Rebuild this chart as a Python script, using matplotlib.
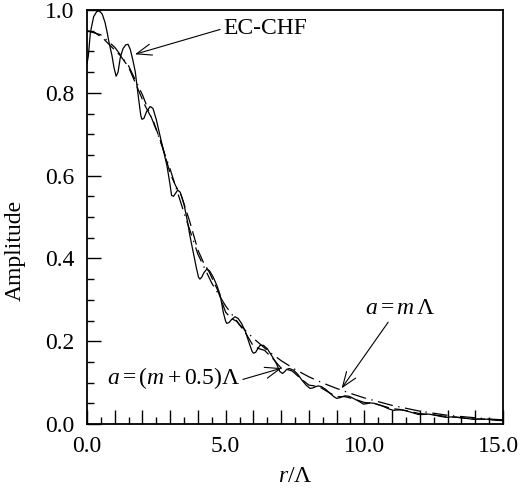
import matplotlib
matplotlib.use('Agg')
import matplotlib.pyplot as plt
from matplotlib.ticker import MultipleLocator, FuncFormatter
from matplotlib.transforms import ScaledTranslation

plt.rcParams['font.family'] = ['Liberation Serif', 'DejaVu Serif']
plt.rcParams['mathtext.fontset'] = 'custom'
plt.rcParams['mathtext.rm'] = 'Liberation Serif'
plt.rcParams['mathtext.it'] = 'Liberation Serif:italic'
plt.rcParams['lines.scale_dashes'] = False

# EC-CHF (solid)
r_chf = [0.0, 0.05, 0.12, 0.24, 0.35, 0.44, 0.55, 0.65, 0.72, 0.8, 0.9, 0.97, 1.05, 1.12, 1.2, 1.3,
         1.4, 1.48, 1.56, 1.65, 1.74, 1.86, 1.94, 1.98, 2.05, 2.15, 2.28, 2.38, 2.5, 2.62, 2.75, 2.88,
         2.99, 3.05, 3.12, 3.2, 3.27, 3.36, 3.5, 3.62, 3.71, 3.83, 3.95, 4.02, 4.07, 4.14, 4.22, 4.32,
         4.42, 4.55, 4.68, 4.8, 4.92, 5.0, 5.04, 5.12, 5.22, 5.34, 5.45, 5.58, 5.72, 5.85, 5.95, 6.0,
         6.08, 6.16, 6.24, 6.36, 6.5, 6.65, 6.8, 6.95, 7.05, 7.12, 7.2, 7.3, 7.45, 7.6, 7.75, 7.9,
         8.04, 8.14, 8.24, 8.34, 8.46, 8.6, 8.75, 8.9, 9.0, 9.1, 9.2, 9.3, 9.45, 9.6, 9.8, 9.97,
         10.08, 10.2, 10.35, 10.5, 10.7, 10.9, 11.05, 11.2, 11.35, 11.55, 11.75, 11.95, 12.1, 12.3,
         12.5, 12.7, 12.95, 13.1, 13.3, 13.5, 13.75, 13.95, 14.1, 14.3, 14.5, 14.75, 15.0]
amp_chf = [0.87, 0.89, 0.945, 0.984, 0.996, 0.998, 0.99, 0.97, 0.948, 0.92, 0.89, 0.862, 0.84, 0.85,
           0.885, 0.907, 0.916, 0.917, 0.905, 0.88, 0.851, 0.786, 0.745, 0.736, 0.738, 0.755, 0.767,
           0.762, 0.735, 0.70, 0.662, 0.625, 0.58, 0.552, 0.55, 0.558, 0.565, 0.56, 0.53, 0.49, 0.455,
           0.415, 0.375, 0.355, 0.35, 0.355, 0.366, 0.374, 0.37, 0.355, 0.335, 0.312, 0.268, 0.248,
           0.243, 0.245, 0.253, 0.259, 0.255, 0.242, 0.222, 0.195, 0.176, 0.171, 0.173, 0.182, 0.19,
           0.19, 0.182, 0.166, 0.15, 0.127, 0.122, 0.126, 0.132, 0.134, 0.13, 0.12, 0.106, 0.094,
           0.086, 0.087, 0.09, 0.092, 0.09, 0.084, 0.075, 0.066, 0.062, 0.063, 0.066, 0.068, 0.067,
           0.062, 0.055, 0.048, 0.049, 0.051, 0.05, 0.047, 0.042, 0.036, 0.033, 0.034, 0.034, 0.031,
           0.027, 0.023, 0.023, 0.024, 0.022, 0.019, 0.016, 0.017, 0.017, 0.015, 0.013, 0.011, 0.012,
           0.012, 0.011, 0.009, 0.008]

# a = (m+0.5)Lambda (dashed)
r_half = [0, 0.3, 0.6, 0.9, 1.2, 1.5, 1.8, 2.1, 2.4, 2.7, 3.0, 3.2, 3.4, 3.7, 4.0, 4.2, 4.4, 4.7, 5.0,
          5.2, 5.4, 5.7, 6.0, 6.2, 6.4, 6.7, 7.0, 7.2, 7.4, 7.7, 8.0, 8.2, 8.4, 8.7, 9.0, 9.3, 9.6,
          10.0, 10.3, 10.6, 11.0, 11.3, 11.6, 12.0, 12.5, 13.0, 13.5, 14.0, 14.5, 15.0]
amp_half = [0.95, 0.945, 0.93, 0.91, 0.89, 0.862, 0.815, 0.768, 0.73, 0.675, 0.605, 0.575, 0.552,
            0.49, 0.42, 0.39, 0.368, 0.325, 0.27, 0.255, 0.248, 0.222, 0.188, 0.182, 0.178, 0.158,
            0.135, 0.132, 0.128, 0.11, 0.094, 0.092, 0.089, 0.077, 0.066, 0.066, 0.061, 0.052, 0.05,
            0.045, 0.037, 0.035, 0.031, 0.025, 0.022, 0.018, 0.015, 0.012, 0.011, 0.009]

# a = m Lambda (dash-dot)
r_int = [0, 0.5, 1.0, 1.5, 2.0, 2.5, 3.0, 3.5, 4.0, 4.5, 5.0, 5.5, 6.0, 6.5, 7.0, 7.5, 8.0, 8.5, 9.0,
         9.5, 10.0, 10.5, 11.0, 11.5, 12.0, 12.5, 13.0, 13.5, 14.0, 14.5, 15.0]
amp_int = [0.95, 0.94, 0.91, 0.865, 0.795, 0.71, 0.615, 0.51, 0.41, 0.34, 0.285, 0.24, 0.207, 0.178,
           0.153, 0.132, 0.114, 0.099, 0.086, 0.074, 0.063, 0.054, 0.045, 0.038, 0.031, 0.026,
           0.021, 0.018, 0.015, 0.012, 0.010]

x_ticklabels = {0: '0.0', 5: '5.0', 10: '10.0', 15: '15.0'}

W, H = 522, 492
fig = plt.figure(figsize=(W / 100, H / 100), dpi=100)
ax = fig.add_axes([87 / W, 68 / H, 416 / W, 414 / H])

lw = 0.9
ax.plot(r_chf, amp_chf, color='black', lw=lw, ls='-')
ax.plot(r_half, amp_half, color='black', lw=lw, ls=(0, (10, 4)))
ax.plot(r_int, amp_int, color='black', lw=lw, ls=(0, (11, 4, 1, 4)))

ax.set_xlim(0, 15)
ax.set_ylim(0, 1)

ax.xaxis.set_major_locator(MultipleLocator(1))
ax.xaxis.set_minor_locator(MultipleLocator(0.5))
ax.xaxis.set_major_formatter(FuncFormatter(
    lambda v, p: x_ticklabels.get(int(round(v)), '') if abs(v - round(v)) < 1e-6 else ''))
ax.yaxis.set_major_locator(MultipleLocator(0.2))
ax.yaxis.set_minor_locator(MultipleLocator(0.05))
ax.yaxis.set_major_formatter(FuncFormatter(lambda v, p: f'{v:.1f}'))

fs = 17
ax.tick_params(which='both', direction='in', top=False, right=False, width=1.0, labelsize=fs)
ax.tick_params(which='major', length=10)
ax.tick_params(which='minor', length=5)
ax.tick_params(axis='x', which='major', pad=9)
ax.tick_params(axis='y', which='major', pad=9)
for s in ax.spines.values():
    s.set_linewidth(1.3)

ax.set_xlabel(r'$r$/Λ', fontsize=fs, labelpad=6)
ax.set_ylabel('Amplitude', fontsize=fs, labelpad=8)
ax.yaxis.set_label_coords(-0.148, 0.42)

ap = dict(arrowstyle='->,head_length=0.4,head_width=0.15', lw=0.8, color='black',
          mutation_scale=27, shrinkA=0, shrinkB=0)
ax.annotate('EC-CHF', xy=(1.73, 0.893), xytext=(4.90, 0.955), ha='left', va='center',
            fontsize=fs, arrowprops=dict(ap, relpos=(0, 0.5)))
ax.annotate(r'$a=m\,\Lambda$', xy=(9.18, 0.086), xytext=(11.29, 0.278), ha='center', va='center',
            fontsize=fs, arrowprops=dict(ap, relpos=(0.38, 0.1)))
ax.annotate(r'$a=(m+0.5)\Lambda$', xy=(7.02, 0.135), xytext=(5.52, 0.112), ha='right', va='center',
            fontsize=fs, arrowprops=dict(ap, relpos=(1.0, 0.4)))

fig.canvas.draw()
for lbl in ax.get_xticklabels():
    if lbl.get_text() == '15.0':
        lbl.set_transform(lbl.get_transform() + ScaledTranslation(-3 / 72, 0, fig.dpi_scale_trans))

fig.savefig('out.png', dpi=100)
